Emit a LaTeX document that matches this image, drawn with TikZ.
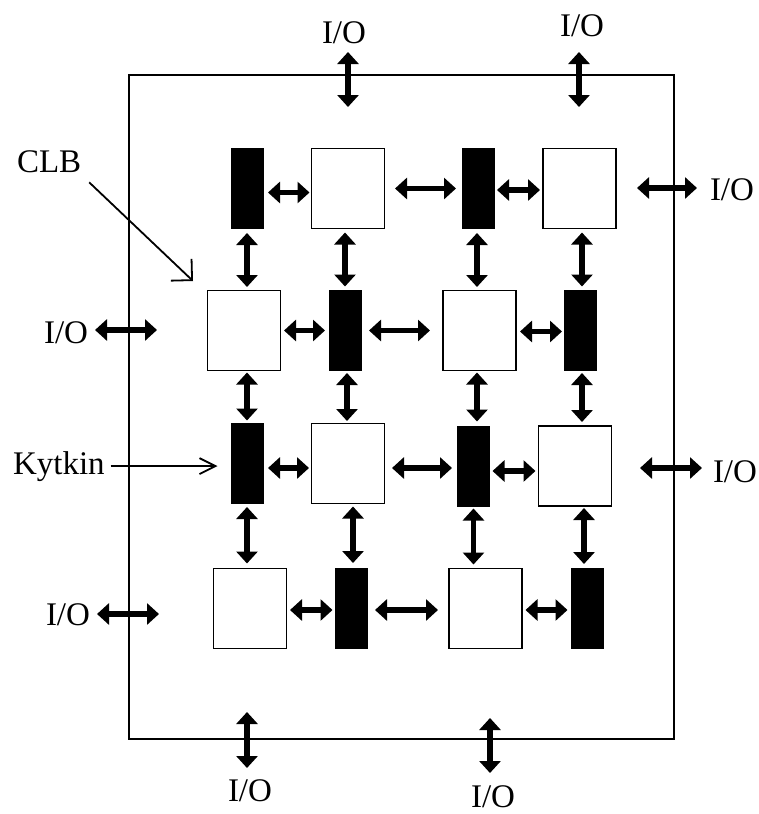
\documentclass[tikz,border=0pt]{standalone}
\usepackage{fontspec}
\setmainfont{Liberation Serif}
\usetikzlibrary{arrows.meta}
\begin{document}
\begin{tikzpicture}[x=1pt,y=-1pt,
  clbbox/.style={draw,line width=1.8pt,fill=white,minimum width=73pt,minimum height=80pt,inner sep=0pt,outer sep=0pt},
  swbox/.style={fill=black,minimum width=33pt,minimum height=81pt,inner sep=0pt,outer sep=0pt},
  dbl/.style={line width=5.5pt,{Triangle[length=12pt,width=21pt]}-{Triangle[length=12pt,width=21pt]}},
  lbl/.style={font=\fontsize{33}{40}\selectfont,inner sep=0pt,outer sep=0pt},
  ptr/.style={line width=1.8pt}]
\useasboundingbox (0,0) rectangle (759,814);
\draw[line width=2pt] (129,75) rectangle (674,739);

% blocks
\node[swbox]  (b11) at (247,188.5) {};
\node[clbbox] (s12) at (348,188.5) {};
\node[swbox]  (b13) at (478.5,188.5) {};
\node[clbbox] (s14) at (579.5,188.5) {};
\node[clbbox] (s21) at (244,330.5) {};
\node[swbox]  (b22) at (345,330.5) {};
\node[clbbox] (s23) at (479.5,330.5) {};
\node[swbox]  (b24) at (580.5,330.5) {};
\node[swbox]  (b31) at (247,463.5) {};
\node[clbbox] (s32) at (348,463.5) {};
\node[swbox]  (b33) at (473.5,466) {};
\node[clbbox] (s34) at (575,466) {};
\node[clbbox] (s41) at (250,608.5) {};
\node[swbox]  (b42) at (351.5,608.5) {};
\node[clbbox] (s43) at (485.5,608.5) {};
\node[swbox]  (b44) at (587,608.5) {};

% horizontal connectors
\draw[dbl] ([shift={(4.5,4)}]b11.east) -- ([shift={(-2,4)}]b11.east -| s12.west);
\draw[dbl] ([shift={(10.5,0)}]s12.east) -- ([shift={(-6,0)}]s12.east -| b13.west);
\draw[dbl] ([shift={(2,1.5)}]b13.east) -- ([shift={(-3,1.5)}]b13.east -| s14.west);

\draw[dbl] ([shift={(3.5,0)}]s21.east) -- ([shift={(-3.5,0)}]s21.east -| b22.west);
\draw[dbl] ([shift={(7.5,0)}]b22.east) -- ([shift={(-13,0)}]b22.east -| s23.west);
\draw[dbl] ([shift={(4,1)}]s23.east) -- ([shift={(-2,1)}]s23.east -| b24.west);

\draw[dbl] ([shift={(4.5,4.5)}]b31.east) -- ([shift={(-2.5,4.5)}]b31.east -| s32.west);
\draw[dbl] ([shift={(7.5,4.5)}]s32.east) -- ([shift={(-5,4.5)}]s32.east -| b33.west);
\draw[dbl] ([shift={(2.5,5)}]b33.east) -- ([shift={(-3,5)}]b33.east -| s34.west);

\draw[dbl] ([shift={(3.5,1.5)}]s41.east) -- ([shift={(-2.5,1.5)}]s41.east -| b42.west);
\draw[dbl] ([shift={(7,1.5)}]b42.east) -- ([shift={(-11,1.5)}]b42.east -| s43.west);
\draw[dbl] ([shift={(3.5,1.5)}]s43.east) -- ([shift={(-3,1.5)}]s43.east -| b44.west);

% vertical connectors
\draw[dbl] ([shift={(0,4)}]b11.south) -- ([shift={(0,-3.5)}]b11.south |- s21.north);
\draw[dbl] ([shift={(0,4)}]s12.south -| b22.north) -- ([shift={(0,-3.5)}]b22.north);
\draw[dbl] ([shift={(-1.5,4)}]b13.south) -- ([shift={(-1.5,-3.5)}]b13.south |- s23.north);
\draw[dbl] ([shift={(1.5,4)}]s14.south -| b24.north) -- ([shift={(1.5,-3.5)}]b24.north);

\draw[dbl] ([shift={(0,2)}]s21.south -| b31.north) -- ([shift={(0,-2.5)}]b31.north);
\draw[dbl] ([shift={(-1,2)}]b22.south -| s32.north) -- ([shift={(-1,-2.5)}]s32.north);
\draw[dbl] ([shift={(-2.5,2)}]s23.south) -- ([shift={(-2.5,-4)}]s23.south |- b33.north);
\draw[dbl] ([shift={(1.5,2)}]b24.south) -- ([shift={(1.5,-4)}]b24.south |- s34.north);

\draw[dbl] ([shift={(0,3)}]b31.south) -- ([shift={(0,-5)}]b31.south |- s41.north);
\draw[dbl] ([shift={(1.5,3)}]s32.south -| b42.north) -- ([shift={(1.5,-5)}]b42.north);
\draw[dbl] ([shift={(0,2)}]b33.south) -- ([shift={(0,-4)}]b33.south |- s43.north);
\draw[dbl] ([shift={(-3,2)}]s34.south -| b44.north) -- ([shift={(-3,-4)}]b44.north);

% I/O labels and connectors
\node[lbl,anchor=base] (ioT1) at (344,43) {I/O};
\node[lbl,anchor=base] (ioT2) at (582,36) {I/O};
\node[lbl,anchor=base west] (ioR1) at (710,200) {I/O};
\node[lbl,anchor=base east] (ioL2) at (88,343) {I/O};
\node[lbl,anchor=base west] (ioR3) at (713,482) {I/O};
\node[lbl,anchor=base east] (ioL4) at (90,625) {I/O};
\node[lbl,anchor=base] (ioB1) at (250,801) {I/O};
\node[lbl,anchor=base] (ioB2) at (493,807) {I/O};

\coordinate (cT1a) at (348,52);  \coordinate (cT1b) at (348,107);
\coordinate (cT2a) at (579,52);  \coordinate (cT2b) at (579,107);
\coordinate (cR1a) at (637,188); \coordinate (cR1b) at (697,188);
\coordinate (cL2a) at (95,330);  \coordinate (cL2b) at (157,330);
\coordinate (cR3a) at (640,468); \coordinate (cR3b) at (702,468);
\coordinate (cL4a) at (97,614);  \coordinate (cL4b) at (159,614);
\coordinate (cB1a) at (247,712); \coordinate (cB1b) at (247,768);
\coordinate (cB2a) at (490,718); \coordinate (cB2b) at (490,773);

\draw[dbl] (cT1a) -- (cT1b);
\draw[dbl] (cT2a) -- (cT2b);
\draw[dbl] (cR1a) -- (cR1b);
\draw[dbl] (cL2a) -- (cL2b);
\draw[dbl] (cR3a) -- (cR3b);
\draw[dbl] (cL4a) -- (cL4b);
\draw[dbl] (cB1a) -- (cB1b);
\draw[dbl] (cB2a) -- (cB2b);

% pointer labels
\node[lbl,anchor=base west] (clbl) at (17,172) {CLB};
\node[lbl,anchor=base west] (kyt) at (13,474) {Kytkin};
\coordinate (clbtip) at (193,281);
\draw[ptr,-{Straight Barb[length=15pt,width=30pt]}] ([shift={(8,10)}]clbl.south east) -- (clbtip);
\draw[ptr,-{Straight Barb[length=16pt,width=16pt]}] ([xshift=6pt]kyt.east) -- ([xshift=-13pt]kyt.east -| b31.west);
\end{tikzpicture}
\end{document}
